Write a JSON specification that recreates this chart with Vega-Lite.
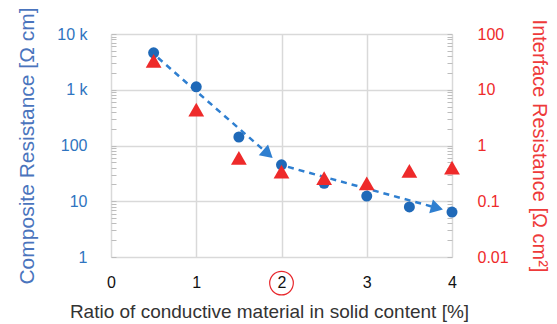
{
  "$schema": "https://vega.github.io/schema/vega-lite/v6.json",
  "width": 341,
  "height": 223,
  "autosize": "none",
  "padding": {"left": 111, "top": 34, "right": 105, "bottom": 67},
  "config": {
    "view": {"stroke": null},
    "font": "Liberation Sans",
    "axis": {"labelFont": "Liberation Sans", "titleFont": "Liberation Sans", "titleFontWeight": "normal"}
  },
  "datasets": {
    "composite": [
      {"ratio": 0.5, "composite": 4600},
      {"ratio": 1.0, "composite": 1130},
      {"ratio": 1.5, "composite": 142},
      {"ratio": 2.0, "composite": 45},
      {"ratio": 2.5, "composite": 21},
      {"ratio": 3.0, "composite": 12.4},
      {"ratio": 3.5, "composite": 7.9},
      {"ratio": 4.0, "composite": 6.4}
    ],
    "interface": [
      {"ratio": 0.5, "interface": 33},
      {"ratio": 1.0, "interface": 4.4},
      {"ratio": 1.5, "interface": 0.6},
      {"ratio": 2.0, "interface": 0.34},
      {"ratio": 2.5, "interface": 0.26},
      {"ratio": 3.0, "interface": 0.21},
      {"ratio": 3.5, "interface": 0.35},
      {"ratio": 4.0, "interface": 0.4}
    ],
    "trend": [
      {"segment": "a", "ratio": 0.551, "composite": 3740},
      {"segment": "a", "ratio": 1.842, "composite": 70.7},
      {"segment": "b", "ratio": 2.076, "composite": 41.3},
      {"segment": "b", "ratio": 3.824, "composite": 7.58}
    ],
    "arrows": [
      {"segment": "a", "ratio": 1.842, "composite": 70.7},
      {"segment": "b", "ratio": 3.824, "composite": 7.58}
    ],
    "highlight": [
      {"ratio": 2, "composite": 0.34}
    ]
  },
  "layer": [
    {
      "layer": [
        {
          "data": {"name": "trend"},
          "mark": {"type": "line", "color": "#2f7fd0", "strokeWidth": 2.5, "strokeDash": [6, 5]},
          "encoding": {
            "x": {"field": "ratio", "type": "quantitative"},
            "y": {"field": "composite", "type": "quantitative"},
            "detail": {"field": "segment"}
          }
        },
        {
          "data": {"name": "arrows"},
          "transform": [{"filter": "datum.segment == 'a'"}],
          "mark": {"type": "point", "shape": "triangle-right", "filled": true, "color": "#2f7fd0", "size": 200, "angle": 41, "opacity": 1},
          "encoding": {
            "x": {"field": "ratio", "type": "quantitative"},
            "y": {"field": "composite", "type": "quantitative"}
          }
        },
        {
          "data": {"name": "arrows"},
          "transform": [{"filter": "datum.segment == 'b'"}],
          "mark": {"type": "point", "shape": "triangle-right", "filled": true, "color": "#2f7fd0", "size": 200, "angle": 15, "opacity": 1},
          "encoding": {
            "x": {"field": "ratio", "type": "quantitative"},
            "y": {"field": "composite", "type": "quantitative"}
          }
        },
        {
          "data": {"name": "composite"},
          "mark": {"type": "point", "shape": "circle", "filled": true, "color": "#1f69b8", "size": 121, "opacity": 1},
          "encoding": {
            "x": {
              "field": "ratio", "type": "quantitative",
              "scale": {"domain": [0, 4], "nice": false},
              "axis": {
                "values": [0, 1, 2, 3, 4],
                "format": "d",
                "title": "Ratio of conductive material in solid content [%]",
                "titleFontSize": 19,
                "titleColor": "#333333",
                "titlePadding": 12,
                "titleX": 158,
                "labelFontSize": 16,
                "labelColor": "#111111",
                "labelPadding": 17,
                "ticks": false,
                "domain": false,
                "grid": true,
                "gridColor": "#d9d9d9",
                "gridWidth": 1.5,
                "labelFlush": false
              }
            },
            "y": {
              "field": "composite", "type": "quantitative",
              "scale": {"type": "log", "domain": [1, 10000], "nice": false},
              "axis": {
                "values": [1, 2, 3, 4, 5, 6, 7, 8, 9, 10, 20, 30, 40, 50, 60, 70, 80, 90, 100, 200, 300, 400, 500, 600, 700, 800, 900, 1000, 2000, 3000, 4000, 5000, 6000, 7000, 8000, 9000, 10000],
                "labelExpr": "datum.value == 1 ? '1' : datum.value == 10 ? '10' : datum.value == 100 ? '100' : datum.value == 1000 ? '1 k' : datum.value == 10000 ? '10 k' : ''",
                "labelOverlap": false,
                "labelFlush": false,
                "labelFontSize": 16,
                "labelColor": "#2f74c0",
                "offset": -5,
                "labelPadding": 24,
                "ticks": true,
                "tickSize": 5,
                "tickWidth": 1,
                "tickColor": "#bdbdbd",
                "domain": false,
                "grid": true,
                "gridColor": "#d9d9d9",
                "gridWidth": 1.5,
                "gridOpacity": {"condition": {"test": "indexof([1, 10, 100, 1000, 10000], datum.value) >= 0", "value": 1}, "value": 0},
                "title": "Composite Resistance [Ω cm]",
                "titleFontSize": 21,
                "titleColor": "#4a74bd",
                "titlePadding": 19
              }
            }
          }
        },
        {
          "data": {"name": "highlight"},
          "mark": {"type": "point", "shape": "circle", "filled": false, "color": "#e8282d", "strokeWidth": 1.2, "size": 560, "clip": false, "opacity": 1},
          "encoding": {
            "x": {"field": "ratio", "type": "quantitative"},
            "y": {"field": "composite", "type": "quantitative"}
          }
        }
      ]
    },
    {
      "data": {"name": "interface"},
      "mark": {"type": "point", "shape": "triangle-up", "filled": true, "color": "#ee2a2a", "size": 250, "opacity": 1},
      "encoding": {
        "x": {"field": "ratio", "type": "quantitative"},
        "y": {
          "field": "interface", "type": "quantitative",
          "scale": {"type": "log", "domain": [0.01, 100], "nice": false},
          "axis": {
            "orient": "right",
            "values": [0.01, 0.02, 0.03, 0.04, 0.05, 0.06, 0.07, 0.08, 0.09, 0.1, 0.2, 0.3, 0.4, 0.5, 0.6, 0.7, 0.8, 0.9, 1, 2, 3, 4, 5, 6, 7, 8, 9, 10, 20, 30, 40, 50, 60, 70, 80, 90, 100],
            "labelExpr": "datum.value == 0.01 ? '0.01' : datum.value == 0.1 ? '0.1' : datum.value == 1 ? '1' : datum.value == 10 ? '10' : datum.value == 100 ? '100' : ''",
            "labelOverlap": false,
            "labelFlush": false,
            "labelFontSize": 16,
            "labelColor": "#ee2a2a",
            "offset": -5,
            "labelPadding": 25,
            "ticks": true,
            "tickSize": 5,
            "tickWidth": 1,
            "tickColor": "#bdbdbd",
            "domain": false,
            "grid": false,
            "title": "Interface Resistance [Ω cm²]",
            "titleFontSize": 20,
            "titleColor": "#ee3a3a",
            "titlePadding": 20
          }
        }
      }
    }
  ],
  "resolve": {"scale": {"y": "independent"}, "axis": {"y": "independent"}}
}
